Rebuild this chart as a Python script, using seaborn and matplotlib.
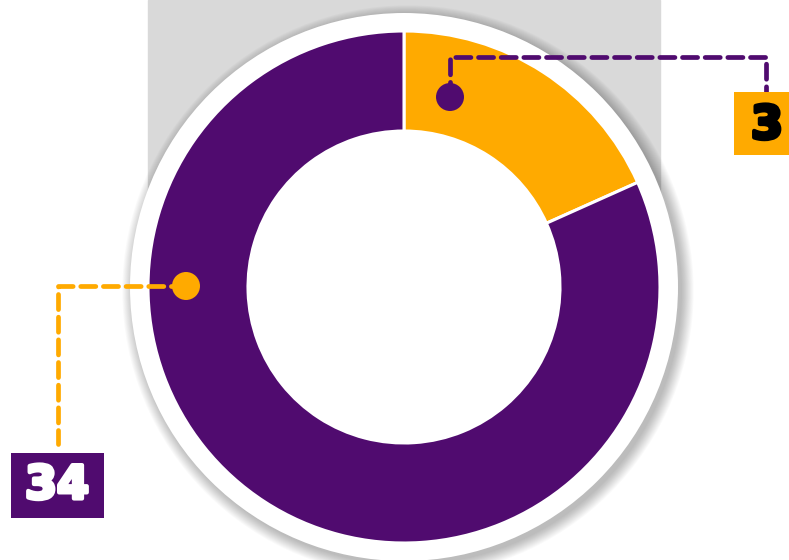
import matplotlib
matplotlib.use("Agg")
import matplotlib.pyplot as plt
import matplotlib.patheffects as pe
import seaborn as sns
from matplotlib.patches import Circle, Rectangle

# ---- data ----
categories = ["Orange", "Purple"]
slice_shares = [18.3, 81.7]          # share of the ring
labels = ["3", "34"]
colors = ["#FFAA00", "#500B6F"]

sns.set_theme(style="white")
plt.rcParams['font.family'] = ['DejaVu Sans']
palette = sns.color_palette(colors)

W, H = 789, 560
fig = plt.figure(figsize=(W / 100, H / 100), dpi=100)
ax = fig.add_axes([0, 0, 1, 1])
ax.set_xlim(0, W)
ax.set_ylim(0, H)
ax.set_aspect('equal')
ax.axis('off')

def Y(y):
    return H - y

cx, cy = 404, Y(287)
R_out, R_in, R_border = 256, 156, 274

# gray backdrop
ax.add_patch(Rectangle((148, cy), 512, H - cy, color="#D9D9D9", zorder=0))

# soft shadow
for i in range(14):
    ax.add_patch(Circle((cx + 4, cy - 4), R_border + i * 0.9, color="black",
                        alpha=0.018, lw=0, zorder=1))
# white border disc
ax.add_patch(Circle((cx, cy), R_border, color="white", lw=0, zorder=2))

wedges, _ = ax.pie(slice_shares, colors=palette, startangle=90, counterclock=False,
                   center=(cx, cy), radius=R_out,
                   wedgeprops=dict(width=R_out - R_in, edgecolor="white", linewidth=2.2))
for w in wedges:
    w.set_zorder(3)
ax.set_xlim(0, W)
ax.set_ylim(0, H)
ax.set_aspect('equal')

dash = (3.2, 1.6)
lw = 3.4

# annotation for orange slice (purple marker)
ax.plot([450, 450, 766, 766], [Y(97), Y(57), Y(57), Y(92)], color=colors[1], lw=lw,
        linestyle=(0, dash), zorder=4, dash_capstyle='round', solid_joinstyle='round')
ax.add_patch(Circle((450, Y(97)), 14, color=colors[1], lw=0, zorder=5))
ax.add_patch(Rectangle((734, Y(155)), 80, 63, color=colors[0], lw=0, zorder=5))
ax.text(767, Y(126), labels[0], ha='center', va='center', fontsize=33,
        fontweight='bold', color='black', zorder=6,
        path_effects=[pe.withStroke(linewidth=3, foreground='black')])

# annotation for purple slice (orange marker)
ax.plot([186, 58, 58], [Y(286), Y(286), Y(444)], color=colors[0], lw=lw,
        linestyle=(0, dash), zorder=4, dash_capstyle='round')
ax.add_patch(Circle((186, Y(286)), 14, color=colors[0], lw=0, zorder=5))
ax.add_patch(Rectangle((11, Y(518)), 93, 65, color=colors[1], lw=0, zorder=5))
ax.text(57, Y(486), labels[1], ha='center', va='center', fontsize=33,
        fontweight='bold', color='white', zorder=6,
        path_effects=[pe.withStroke(linewidth=3, foreground='white')])

fig.savefig("out.png", dpi=100)
